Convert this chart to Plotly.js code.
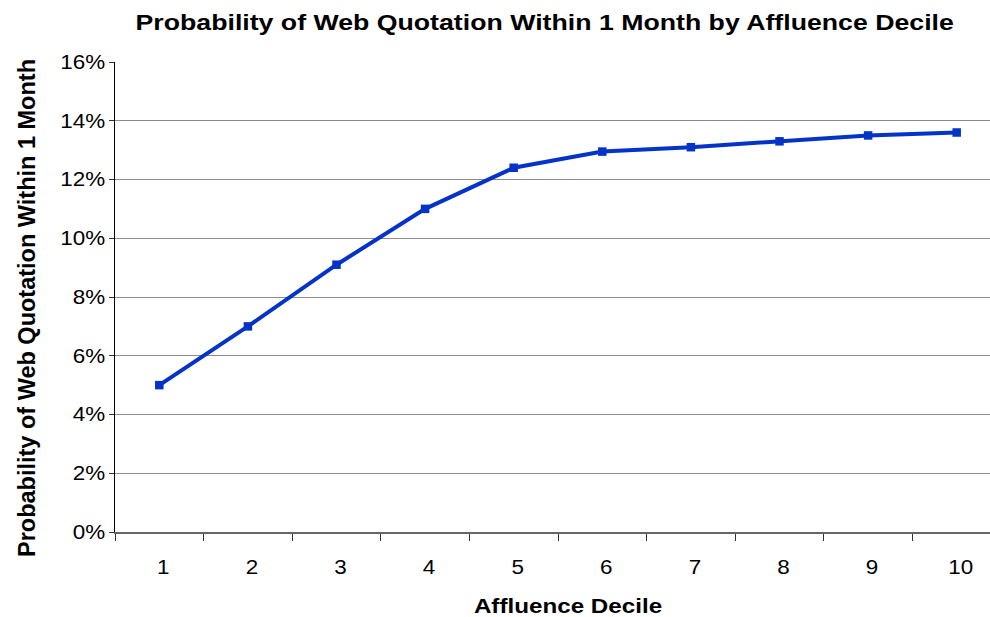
<!DOCTYPE html>
<html>
<head>
<meta charset="utf-8">
<script src="https://cdn.plot.ly/plotly-3.0.1.min.js"></script>
<style>
  html, body { margin: 0; padding: 0; overflow: hidden; background: #fff; }
  #chart { width: 1005px; height: 617px; }
</style>
</head>
<body>
<div id="chart"></div>
<script>
// Affluence deciles and the probability of a web quotation within one month
const deciles = ['1', '2', '3', '4', '5', '6', '7', '8', '9', '10'];
const probability = [0.050, 0.070, 0.091, 0.110, 0.124, 0.1295, 0.131, 0.133, 0.135, 0.136];
const yTickValues = [0, 0.02, 0.04, 0.06, 0.08, 0.10, 0.12, 0.14, 0.16];
const yTickLabels = ['0%', '2%', '4%', '6%', '8%', '10%', '12%', '14%', '16%'];

const font = 'Liberation Sans, Arial, sans-serif';
const blue = '#0433c8';

const trace = {
  type: 'scatter',
  mode: 'lines+markers',
  x: deciles,
  y: probability,
  line: { color: blue, width: 4 },
  marker: { symbol: 'square', size: 8.5, color: blue },
  hoverinfo: 'x+y'
};

const layout = {
  width: 1005,
  height: 617,
  margin: { l: 115, r: 4, t: 62, b: 85 },
  paper_bgcolor: '#ffffff',
  plot_bgcolor: '#ffffff',
  showlegend: false,
  font: { family: font, color: '#000' },
  title: {
    text: '<b>Probability of Web Quotation Within 1 Month by Affluence Decile</b>',
    font: { family: font, size: 22, color: '#000' },
    x: 0.542, xanchor: 'center',
    y: 0.964, yanchor: 'middle'
  },
  xaxis: {
    type: 'category',
    range: [-0.5, 9.5],
    tickson: 'boundaries',
    ticks: 'outside',
    ticklen: 7,
    tickcolor: '#333',
    tickwidth: 1,
    ticklabelstandoff: 17,
    tickfont: { family: font, size: 19.5, color: '#000' },
    showline: true,
    linecolor: '#666',
    linewidth: 2,
    showgrid: false,
    zeroline: false,
    title: {
      text: '<b>Affluence Decile</b>',
      font: { family: font, size: 20, color: '#000' },
      standoff: 18
    }
  },
  yaxis: {
    range: [0, 0.16],
    tickvals: yTickValues,
    ticktext: yTickLabels,
    ticks: 'outside',
    ticklen: 5,
    tickcolor: '#333',
    tickfont: { family: font, size: 19.5, color: '#000' },
    showline: true,
    linecolor: '#000',
    linewidth: 1,
    showgrid: true,
    gridcolor: '#8c8c8c',
    gridwidth: 1,
    zeroline: false,
    title: {
      text: '<b>Probability of Web Quotation Within 1 Month</b>',
      font: { family: font, size: 23.5, color: '#000' },
      standoff: 24
    }
  }
};

// Widen text glyphs about an anchor point (middle or right edge), then nudge by dx, dy
function adjustText(selector, factor, anchor, dx, dy) {
  document.querySelectorAll(selector).forEach(function (el) {
    const box = el.getBBox();
    const cx = anchor === 'end' ? box.x + box.width : box.x + box.width / 2;
    const base = el.getAttribute('transform') || '';
    el.setAttribute('transform',
      'translate(' + (dx || 0) + ',' + (dy || 0) + ') ' + base +
      ' translate(' + cx + ',0) scale(' + factor + ',1) translate(' + (-cx) + ',0)');
  });
}

Plotly.newPlot('chart', [trace], layout, { displayModeBar: false, staticPlot: true })
  .then(function () {
    adjustText('.gtitle', 1.214, 'middle', 0, 0);
    adjustText('.xtitle', 1.21, 'middle', 10, 4);
    adjustText('.xtick text', 1.15, 'middle', 4, 0);
    adjustText('.ytick text', 1.15, 'end', 0, 0);
    adjustText('.ytitle', 1, 'middle', 1, 11);
  });
</script>
</body>
</html>
